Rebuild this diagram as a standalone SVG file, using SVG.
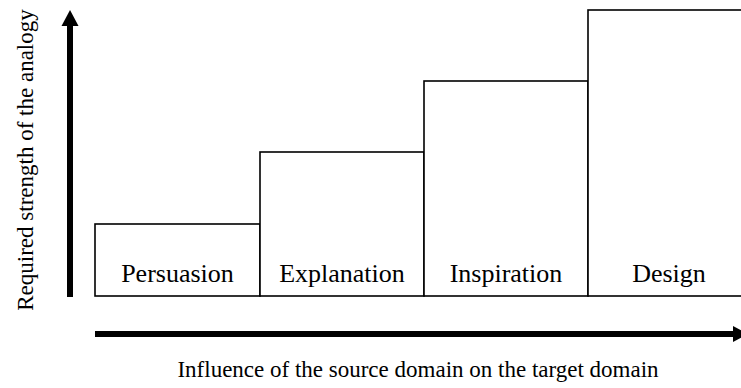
<svg xmlns="http://www.w3.org/2000/svg" width="741" height="388" viewBox="0 0 741 388">
<style>
.box{fill:#fff;stroke:#000;stroke-width:1.6}
.lbl{font-family:"Liberation Serif","Times New Roman",serif;font-size:26px;fill:#000;text-anchor:middle}
.ax{font-family:"Liberation Serif","Times New Roman",serif;font-size:23px;fill:#000;text-anchor:middle}
.axis{stroke:#000;stroke-width:6;fill:none}
.head{fill:#000}
</style>
<rect width="741" height="388" fill="#fff"/>
<g id="persuasion"><rect class="box" x="95" y="224" width="165" height="72"/><text class="lbl" x="177.5" y="282">Persuasion</text></g>
<g id="explanation"><rect class="box" x="260" y="152" width="164" height="144"/><text class="lbl" x="342" y="282">Explanation</text></g>
<g id="inspiration"><rect class="box" x="424" y="81" width="164" height="215"/><text class="lbl" x="506" y="282">Inspiration</text></g>
<g id="design"><rect class="box" x="588" y="10" width="160" height="286"/><text class="lbl" x="669" y="282">Design</text></g>
<g id="connectors">
<line class="axis" x1="70" y1="297" x2="70" y2="24"/>
<polygon class="head" points="70,10 78.5,26 61.5,26"/>
<line class="axis" x1="95" y1="334" x2="736" y2="334"/>
<polygon class="head" points="748,334 733,326 733,342"/>
</g>
<text class="ax" transform="translate(33,160) rotate(-90)" x="0" y="0">Required strength of the analogy</text>
<text class="ax" x="418" y="377">Influence of the source domain on the target domain</text>
</svg>
